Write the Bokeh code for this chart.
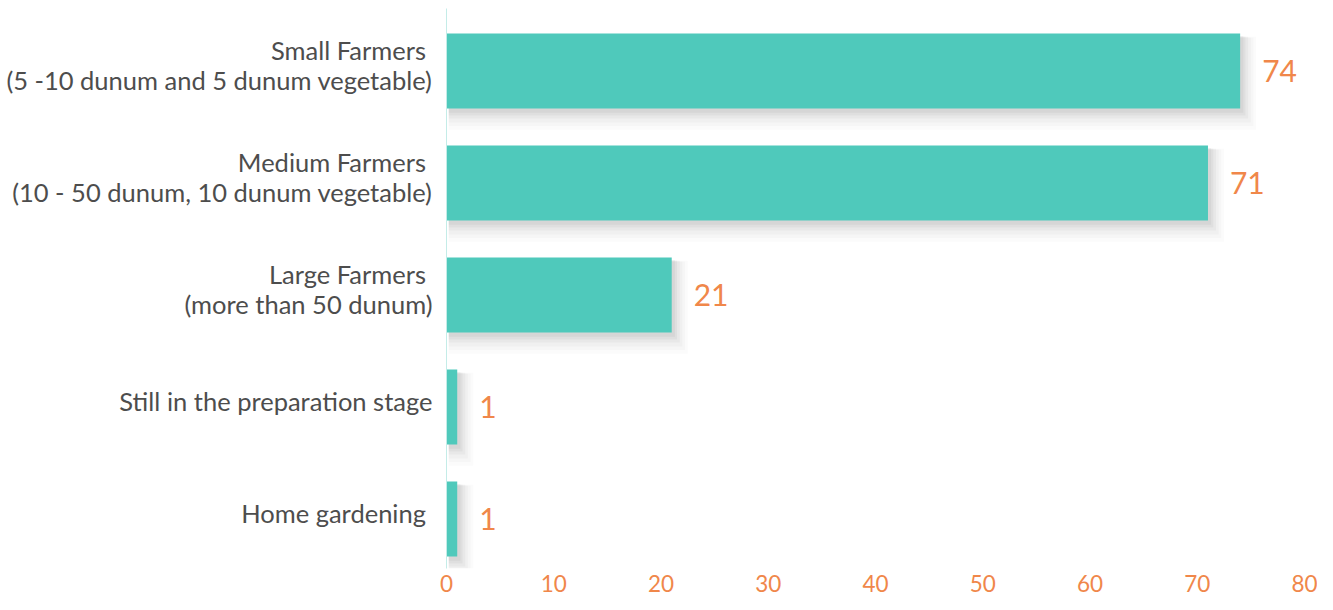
from bokeh.plotting import figure
from bokeh.models import ColumnDataSource, FactorRange, Range1d, FixedTicker, LabelSet
from bokeh.transform import dodge
from bokeh.embed import file_html
from bokeh.resources import INLINE
from bokeh.core.properties import value

categories = [
    "Small Farmers \n(5 -10 dunum and 5 dunum vegetable)",
    "Medium Farmers \n(10 - 50 dunum, 10 dunum vegetable)",
    "Large Farmers \n(more than 50 dunum)",
    "Still in the preparation stage",
    "Home gardening ",
]
counts = [74, 71, 21, 1, 1]
x_ticks = [0, 10, 20, 30, 40, 50, 60, 70, 80]

BAR = "#4FC9BB"
ORANGE = "#F0874A"
TEXT = "#4D4D4D"
FONT = "Lato"
BAR_SHIFT = -0.058   # bars sit slightly below their category label

src = ColumnDataSource(dict(cat=categories, val=counts, lbl=[str(v) for v in counts]))

p = figure(
    width=1317, height=602,
    y_range=FactorRange(*reversed(categories)),
    x_range=Range1d(0, 80),
    output_backend="svg", toolbar_location=None,
    min_border_left=446, min_border_right=13, min_border_top=8, min_border_bottom=34,
)
p.outline_line_color = None
p.xgrid.grid_line_color = None
p.ygrid.grid_line_color = None
p.y_range.range_padding = 0
p.y_range.group_padding = 0

# soft, blurred drop shadows (layers of increasing spread)
shadow_layers = [(1.5, -0.11, 0.16, 0.015), (1.25, -0.095, 0.12, 0.02),
                 (1.0, -0.08, 0.09, 0.025), (0.75, -0.06, 0.06, 0.03),
                 (0.5, -0.045, 0.035, 0.035), (0.3, -0.03, 0.015, 0.04)]
for dx, dy, grow, a in shadow_layers:
    p.hbar(y=dodge("cat", BAR_SHIFT + dy, range=p.y_range), right=dodge("val", dx), left=0.2,
           height=0.67 + grow, source=src, fill_color="#000000", fill_alpha=a, line_color=None)

p.hbar(y=dodge("cat", BAR_SHIFT, range=p.y_range), right="val", left=0, height=0.67,
       source=src, fill_color=BAR, line_color=None)

labels = LabelSet(x="val", y=dodge("cat", BAR_SHIFT, range=p.y_range), text="lbl", source=src,
                  x_offset=22, y_offset=0,
                  text_font=value(FONT), text_font_size="30px", text_color=ORANGE,
                  text_align="left", text_baseline="middle")
p.add_layout(labels)

p.xaxis.ticker = FixedTicker(ticks=x_ticks)
p.xaxis.axis_line_color = None
p.xaxis.major_tick_line_color = None
p.xaxis.minor_tick_line_color = None
p.xaxis.major_tick_out = 0
p.xaxis.major_label_text_color = ORANGE
p.xaxis.major_label_text_font = FONT
p.xaxis.major_label_text_font_size = "22.5px"
p.xaxis.major_label_standoff = 6

p.yaxis.axis_line_color = "#C4ECE8"
p.yaxis.axis_line_width = 1
p.yaxis.major_tick_line_color = None
p.yaxis.minor_tick_line_color = None
p.yaxis.major_tick_out = 0
p.yaxis.major_label_text_color = TEXT
p.yaxis.major_label_text_font = FONT
p.yaxis.major_label_text_font_size = "25.5px"
p.yaxis.major_label_standoff = 14
p.yaxis.major_label_text_line_height = 1.0

open("out.html", "w").write(file_html(p, INLINE))
